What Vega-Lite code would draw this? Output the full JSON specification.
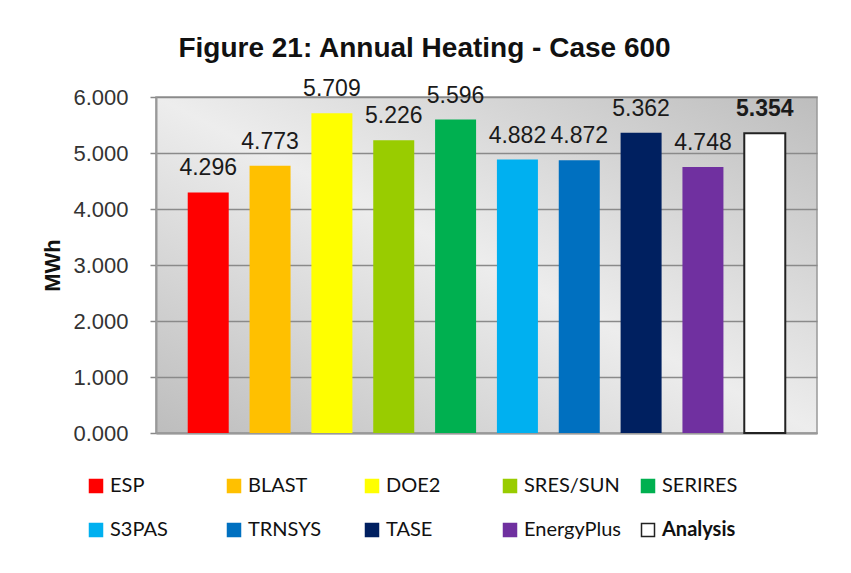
{
  "$schema": "https://vega.github.io/schema/vega-lite/v6.json",
  "width": 661,
  "height": 336,
  "autosize": {"type": "none"},
  "padding": {"left": 156, "top": 97, "right": 34, "bottom": 140},
  "background": "white",
  "title": {
    "text": "Figure 21: Annual Heating - Case 600",
    "font": "Liberation Sans",
    "fontSize": 28,
    "fontWeight": "bold",
    "color": "#111111",
    "anchor": "middle",
    "frame": "group",
    "dx": -62,
    "offset": 15
  },
  "view": {
    "stroke": "#999999",
    "strokeWidth": 1.5,
    "fill": {
      "gradient": "linear",
      "x1": 0, "y1": 1, "x2": 1, "y2": 0,
      "stops": [
        {"offset": 0, "color": "#bdbdbd"},
        {"offset": 0.5, "color": "#ededed"},
        {"offset": 1, "color": "#bdbdbd"}
      ]
    }
  },
  "data": {
    "values": [
      {"Program": "ESP", "MWh": 4.296},
      {"Program": "BLAST", "MWh": 4.773},
      {"Program": "DOE2", "MWh": 5.709},
      {"Program": "SRES/SUN", "MWh": 5.226},
      {"Program": "SERIRES", "MWh": 5.596},
      {"Program": "S3PAS", "MWh": 4.882},
      {"Program": "TRNSYS", "MWh": 4.872},
      {"Program": "TASE", "MWh": 5.362},
      {"Program": "EnergyPlus", "MWh": 4.748},
      {"Program": "Analysis", "MWh": 5.354}
    ]
  },
  "encoding": {
    "x": {
      "field": "Program",
      "type": "nominal",
      "sort": null,
      "scale": {"paddingInner": 0.337, "paddingOuter": 0.513},
      "axis": {"labels": false, "ticks": false, "title": null, "domain": true, "domainColor": "#999999", "domainWidth": 2, "grid": false}
    },
    "y": {
      "field": "MWh",
      "type": "quantitative",
      "scale": {"domain": [0, 6], "nice": false},
      "axis": {
        "values": [0, 1, 2, 3, 4, 5, 6],
        "format": ".3f",
        "title": "MWh",
        "titleFont": "Liberation Sans",
        "titleFontSize": 22,
        "titleFontWeight": "bold",
        "titleColor": "#111111",
        "titlePadding": 8,
        "labelFont": "Liberation Sans",
        "labelFontSize": 22,
        "labelColor": "#333333",
        "labelPadding": 22,
        "tickSize": 6,
        "tickColor": "#888888",
        "tickWidth": 1.5,
        "domainColor": "#999999",
        "domainWidth": 2,
        "grid": true,
        "gridColor": "#8a8a8a",
        "gridWidth": 1.5
      }
    }
  },
  "layer": [
    {
      "mark": {"type": "bar"},
      "encoding": {
        "fill": {
          "field": "Program",
          "type": "nominal",
          "scale": {
            "domain": ["ESP", "BLAST", "DOE2", "SRES/SUN", "SERIRES", "S3PAS", "TRNSYS", "TASE", "EnergyPlus", "Analysis"],
            "range": ["#ff0000", "#ffc000", "#ffff00", "#99cc00", "#00b050", "#00b0f0", "#0070c0", "#002060", "#7030a0", "#ffffff"]
          },
          "legend": {
            "title": null,
            "orient": "none",
            "legendX": -70,
            "legendY": 379,
            "direction": "horizontal",
            "columns": 5,
            "gridAlign": "all",
            "columnPadding": 16,
            "rowPadding": 24,
            "symbolType": "square",
            "symbolSize": 169,
            "symbolStrokeWidth": 1.5,
            "labelFont": "Lato",
            "labelFontSize": 20,
            "labelColor": "#111111",
            "labelLimit": 250,
            "labelFontWeight": {"expr": "datum.value === 'Analysis' ? 'bold' : 'normal'"}
          }
        },
        "stroke": {
          "field": "Program",
          "type": "nominal",
          "scale": {
            "domain": ["ESP", "BLAST", "DOE2", "SRES/SUN", "SERIRES", "S3PAS", "TRNSYS", "TASE", "EnergyPlus", "Analysis"],
            "range": ["#ff0000", "#ffc000", "#ffff00", "#99cc00", "#00b050", "#00b0f0", "#0070c0", "#002060", "#7030a0", "#222222"]
          }
        },
        "strokeWidth": {
          "condition": {"test": "datum.Program === 'Analysis'", "value": 2},
          "value": 0
        }
      }
    },
    {
      "mark": {
        "type": "text",
        "baseline": "alphabetic",
        "dy": -17,
        "font": "Liberation Sans",
        "fontSize": 23,
        "color": "#1a1a1a",
        "fontWeight": {"expr": "datum.Program === 'Analysis' ? 'bold' : 'normal'"}
      },
      "encoding": {
        "text": {"field": "MWh", "type": "quantitative", "format": ".3f"}
      }
    }
  ]
}
